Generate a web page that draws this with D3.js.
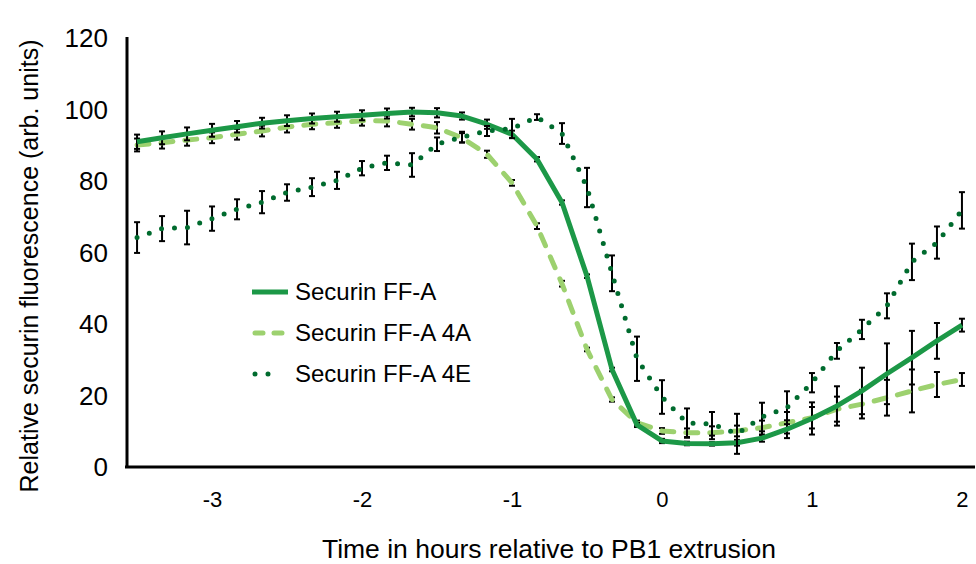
<!DOCTYPE html>
<html>
<head>
<meta charset="utf-8">
<script src="https://cdn.jsdelivr.net/npm/d3@7"></script>
<style>
  body { margin: 0; background: #fff; }
  text { font-family: Arial, "Liberation Sans", sans-serif; fill: #000; }
</style>
</head>
<body>
<div id="chart"></div>
<script>
// time points, minutes relative to PB1 extrusion
var minutes = [-210, -200, -190, -180, -170, -160, -150, -140, -130, -120, -110, -100,
    -90, -80, -70, -60, -50, -40, -30, -20, -10, 0, 10, 20, 30, 40, 50, 60, 70, 80, 90, 100, 110, 120];

var ffA = [90.7, 91.8, 92.9, 93.9, 94.9, 95.9, 96.6, 97.2, 97.7, 98.1, 98.6, 99.0,
    98.8, 97.9, 95.6, 92.8, 85.8, 73.7, 53.1, 27.0, 11.5, 7.0, 6.3, 6.2, 6.5, 7.8,
    10.3, 13.3, 16.8, 21.0, 25.8, 30.3, 35.0, 39.4];
var ffAErr = [2, 1.8, 1.8, 1.8, 1.6, 1.5, 1.5, 1.4, 1.4, 1.4, 1.4, 1.2,
    1.3, 1.0, 1.3, 1.0, 0.6, 0.6, 0.5, 0.5, 0.6, 0.6, 0.5, 0.5, 0.8, 1.0,
    2.5, 4.5, 5.5, 6.5, 8.5, 7.5, 5, 1.8];

var ff4A = [89.8, 90.4, 91.2, 91.8, 92.8, 93.7, 94.8, 95.6, 96.0, 96.6, 96.5, 95.6,
    94.6, 91.8, 87.2, 79.2, 67.1, 51.0, 32.6, 18.6, 12.1, 9.8, 9.3, 9.3, 9.8, 10.7,
    12.1, 13.5, 15.9, 17.3, 19.1, 21.0, 22.8, 24.2];
var ff4AErr = [1.8, 1.6, 1.6, 1.5, 1.5, 1.5, 1.5, 1.4, 1.4, 1.4, 1.5, 1.5,
    1.6, 1.3, 1.0, 0.8, 0.8, 0.8, 0.5, 0.6, 0.6, 0.8, 1.2, 1.8, 1.5, 2,
    3, 3, 3.5, 4, 5, 6, 3.5, 1.8];

var ff4E = [63.9, 66.4, 66.7, 69.2, 71.8, 73.8, 76.5, 78.0, 79.9, 83.3, 84.8, 84.2,
    90.0, 92.0, 93.7, 94.4, 97.6, 93.0, 77.9, 53.9, 30.0, 19.3, 12.0, 11.8, 9.0, 13.7,
    16.3, 23.3, 32.2, 38.2, 44.8, 57.1, 62.5, 71.5];
var ff4EErr = [4.3, 3.5, 4.7, 3.4, 2.8, 3.1, 2.3, 2.5, 2.4, 2.0, 2.0, 3.3,
    1.9, 1.5, 1.4, 2.7, 0.8, 2.9, 5.5, 5, 6.2, 4.7, 4.1, 3.3, 5.6, 4,
    4.6, 2.7, 2.2, 2.7, 3.5, 5.1, 4.5, 5.1];

var seriesNames = ['Securin FF-A', 'Securin FF-A 4A', 'Securin FF-A 4E'];
var xTicks = [-3, -2, -1, 0, 1, 2];
var yTicks = [0, 20, 40, 60, 80, 100, 120];

var width = 976, height = 564;

var x = d3.scaleLinear().domain([-3.567, 2.087]).range([127, 975]);
var y = d3.scaleLinear().domain([0, 120]).range([466, 37]);

var svg = d3.select('#chart').append('svg')
    .attr('width', width)
    .attr('height', height);

var series = [
    {name: seriesNames[1], values: ff4A, err: ff4AErr, color: '#9dd16f', dash: '12,12', cap: 'round', w: 5},
    {name: seriesNames[0], values: ffA, err: ffAErr, color: '#1c9847', dash: null, cap: 'butt', w: 5},
    {name: seriesNames[2], values: ff4E, err: ff4EErr, color: '#006b2e', dash: '0,13', cap: 'round', w: 5}
];

var line = d3.line()
    .x(function(d) { return x(d.t); })
    .y(function(d) { return y(d.v); });

series.forEach(function(s) {
    var pts = minutes.map(function(m, i) {
        return {t: m / 60, v: s.values[i], e: s.err[i]};
    });

    // error bars
    var eb = svg.append('g').attr('stroke', '#000').attr('stroke-width', 2);
    pts.forEach(function(p) {
        var cx = x(p.t), y0 = y(p.v - p.e), y1 = y(p.v + p.e);
        eb.append('line').attr('x1', cx).attr('x2', cx).attr('y1', y0).attr('y2', y1);
        eb.append('line').attr('x1', cx - 3).attr('x2', cx + 3).attr('y1', y0).attr('y2', y0);
        eb.append('line').attr('x1', cx - 3).attr('x2', cx + 3).attr('y1', y1).attr('y2', y1);
    });

    svg.append('path')
        .attr('d', line(pts))
        .attr('fill', 'none')
        .attr('stroke', s.color)
        .attr('stroke-width', s.w)
        .attr('stroke-linecap', s.cap)
        .attr('stroke-linejoin', 'round')
        .attr('stroke-dasharray', s.dash);
});

// Axes
var xAxis = d3.axisBottom(x).tickValues(xTicks).tickSize(0).tickPadding(24)
    .tickFormat(function(d) { return d < 0 ? '-' + Math.abs(d) : String(d); });
var yAxis = d3.axisLeft(y).tickValues(yTicks).tickSize(0).tickPadding(19);

var gx = svg.append('g')
    .attr('transform', 'translate(0,467)')
    .call(xAxis);
gx.select('.domain').attr('stroke-width', 3).attr('d', 'M125,0H975');
gx.selectAll('text').style('font-size', '22px');

var gy = svg.append('g')
    .attr('transform', 'translate(127,0)')
    .call(yAxis);
gy.select('.domain').attr('stroke-width', 3).attr('d', 'M0,37V468');
gy.selectAll('text').style('font-size', '26px').attr('dy', '0.38em');

// Axis titles
svg.append('text')
    .attr('x', 549).attr('y', 558)
    .attr('text-anchor', 'middle')
    .style('font-size', '26.5px')
    .text('Time in hours relative to PB1 extrusion');

svg.append('text')
    .attr('transform', 'translate(38,266) rotate(-90)')
    .attr('text-anchor', 'middle')
    .style('font-size', '25px')
    .text('Relative securin fluorescence (arb. units)');

// Legend
var legendOrder = [series[1], series[0], series[2]];
var legendY = [292, 333, 374];
var lg = svg.append('g');
legendOrder.forEach(function(s, i) {
    var ly = legendY[i];
    lg.append('line')
        .attr('x1', s.cap === 'round' ? 255 : 252).attr('x2', s.name === seriesNames[2] ? 281 : (s.cap === 'round' ? 283 : 288))
        .attr('y1', ly).attr('y2', ly)
        .attr('stroke', s.color)
        .attr('stroke-width', s.w)
        .attr('stroke-linecap', s.cap)
        .attr('stroke-dasharray', s.dash === '12,12' ? '8,11' : s.dash);
    lg.append('text')
        .attr('x', 295).attr('y', ly + 8)
        .style('font-size', '24px')
        .text(s.name);
});
</script>
</body>
</html>
